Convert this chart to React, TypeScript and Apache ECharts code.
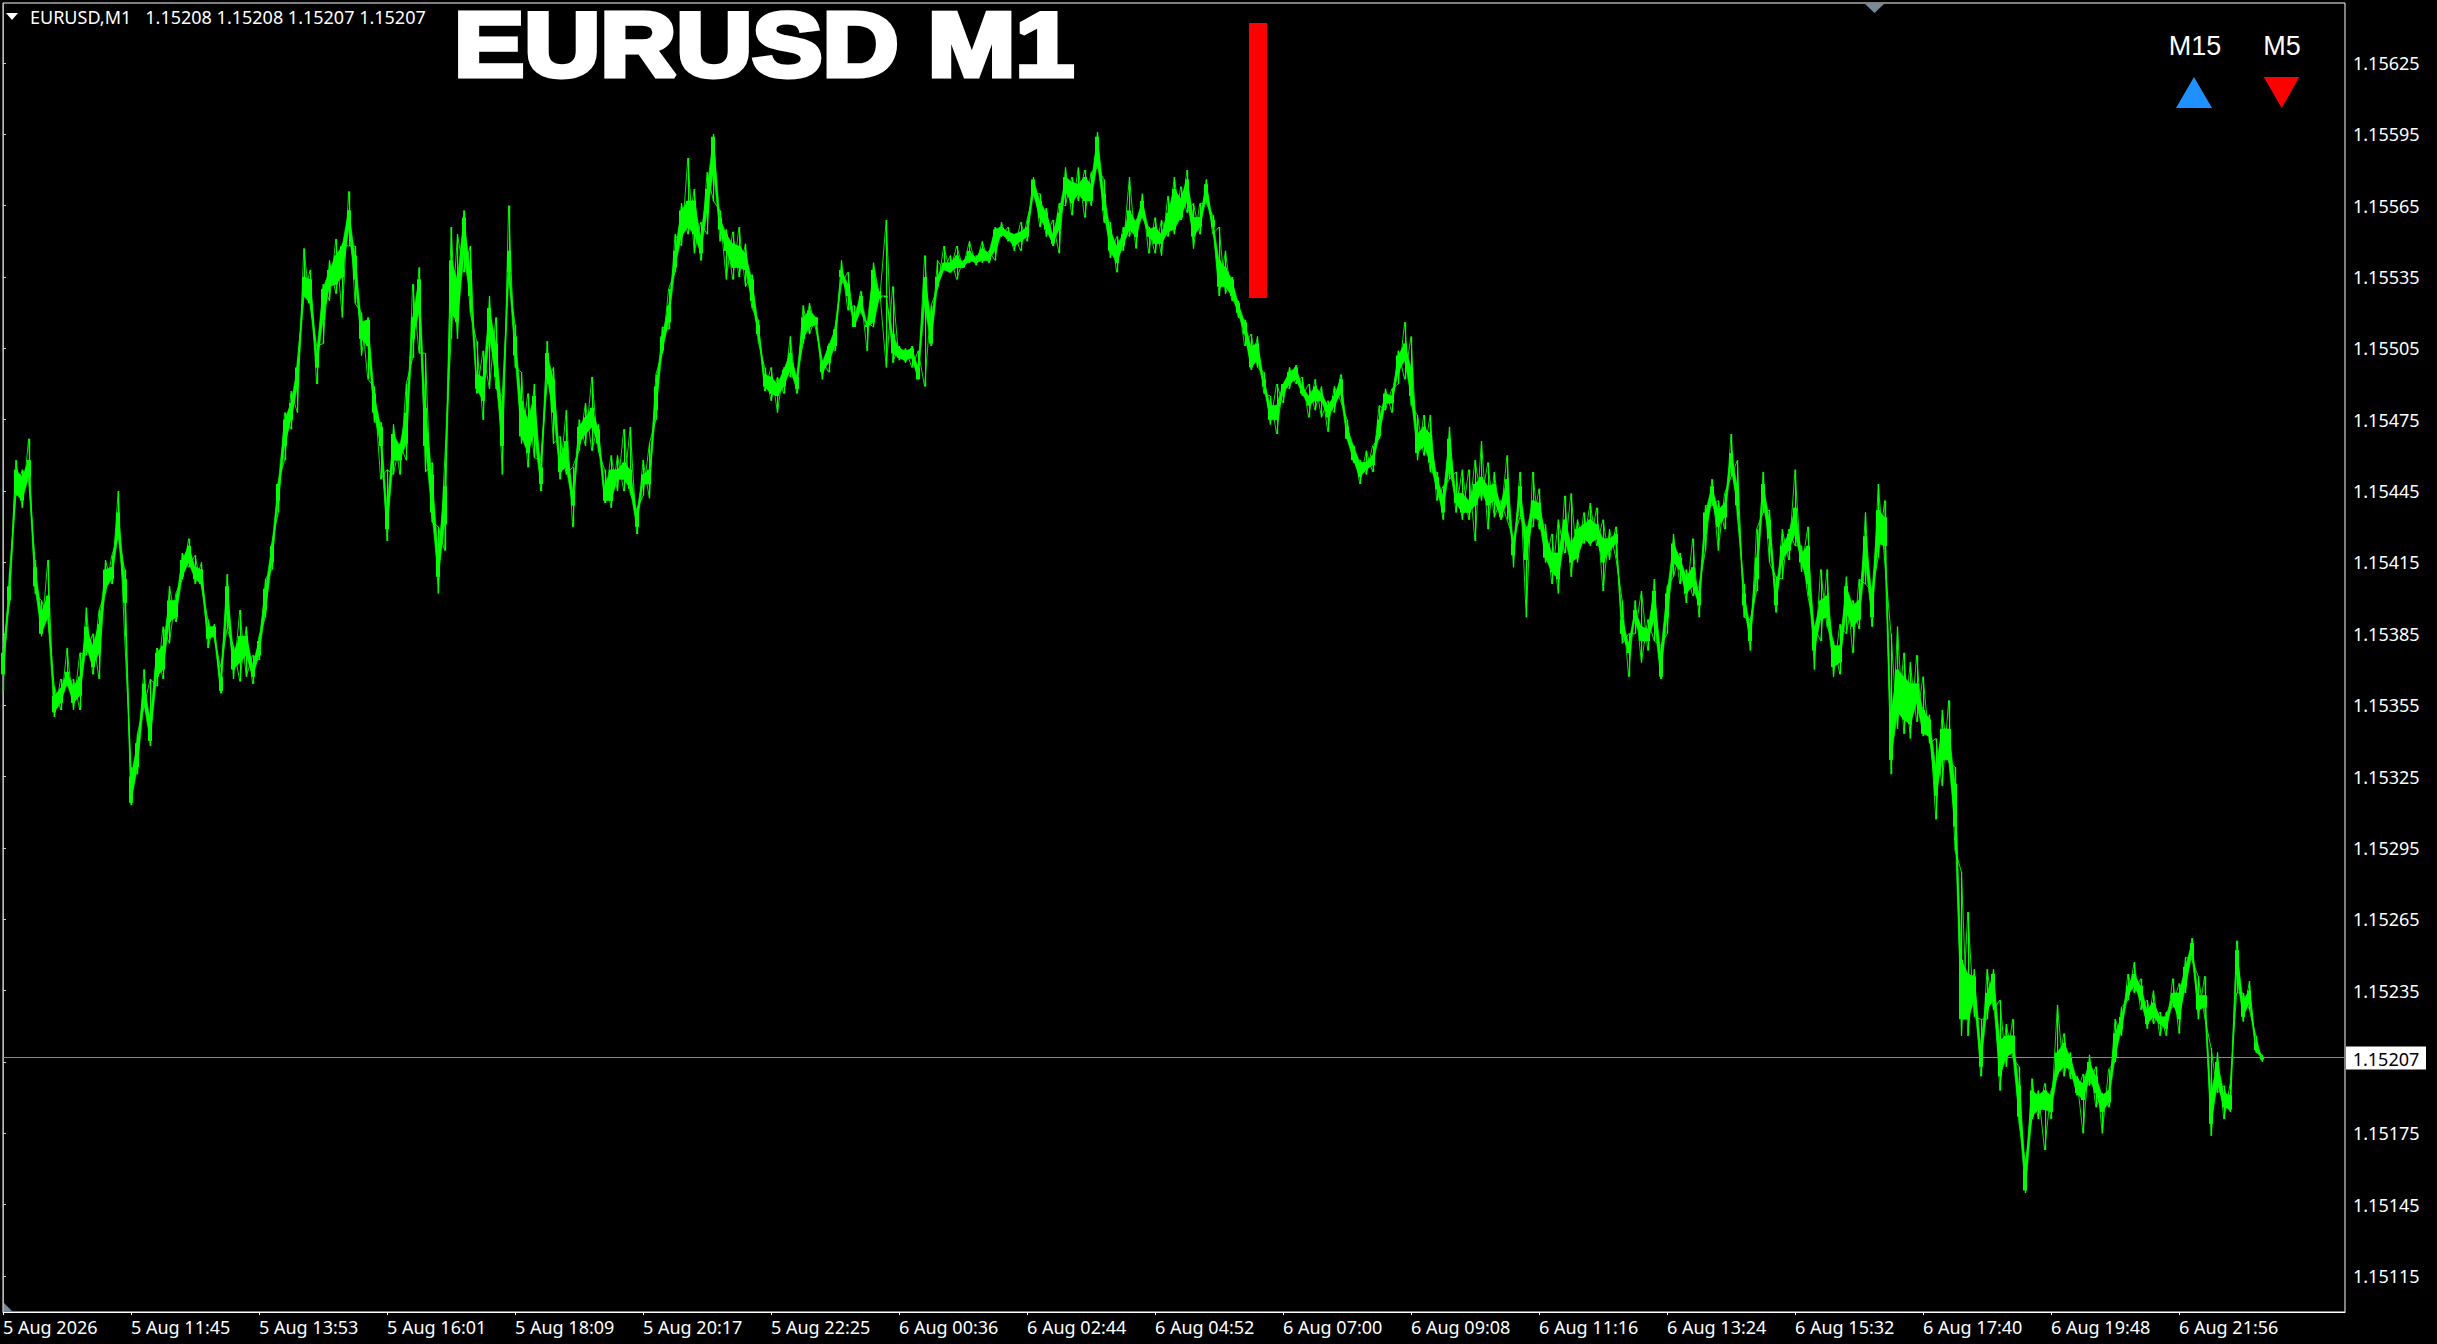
import React, { useEffect, useRef } from "react";
import * as echarts from "echarts";

const WIDTH = 2437;
const HEIGHT = 1344;

const timeLabels = [
  "5 Aug 2026", "5 Aug 11:45", "5 Aug 13:53", "5 Aug 16:01", "5 Aug 18:09", "5 Aug 20:17",
  "5 Aug 22:25", "6 Aug 00:36", "6 Aug 02:44", "6 Aug 04:52", "6 Aug 07:00", "6 Aug 09:08",
  "6 Aug 11:16", "6 Aug 13:24", "6 Aug 15:32", "6 Aug 17:40", "6 Aug 19:48", "6 Aug 21:56",
];
const minutesPerLabel = 128;
const axisEndMinute = 2342;
const priceLabels = [
  1.15625, 1.15595, 1.15565, 1.15535, 1.15505, 1.15475, 1.15445, 1.15415, 1.15385,
  1.15355, 1.15325, 1.15295, 1.15265, 1.15235, 1.15175, 1.15145, 1.15115,
];
const priceTicks = [...priceLabels, 1.15205];
const lastPrice = 1.15207;

const signalBar = { fromMinute: 1246, toMinute: 1264, top: 1.156418, bottom: 1.155262 };

// Points above 1.15000, one bar for every 6.4 minutes of the axis, 20 bars per label.
const basePrice = 1.15;
const barMinutes = 6.4;
const highs = [
  379,411,458,454,467,416,399,416,363,366,379,366,377,396,385,395,416,418,445,412,
  329,343,370,366,379,388,405,402,419,425,418,415,391,389,371,410,380,395,388,376,
  384,408,423,449,478,487,500,547,538,506,532,542,551,549,571,548,520,518,489,474,
  454,473,465,490,532,539,503,457,430,457,556,553,563,548,508,504,527,518,485,565,
  515,495,486,490,458,508,497,468,479,455,475,482,493,473,454,460,460,471,472,437,
  458,465,494,514,530,553,566,585,572,558,579,595,563,555,554,556,549,536,517,497,
  497,493,497,510,493,523,524,518,500,507,514,542,537,523,529,516,541,529,559,531,
  506,505,506,504,544,523,542,548,544,548,542,550,544,550,546,556,558,556,553,558,
  559,577,570,564,559,566,581,577,581,580,579,596,576,558,552,556,577,559,570,556,
  560,559,569,577,573,580,566,566,576,561,556,546,535,525,517,511,510,495,485,490,
  490,497,498,493,490,492,489,483,489,494,475,464,458,462,464,481,488,488,504,516,
  510,477,477,477,453,447,472,453,454,454,458,466,457,453,441,460,425,453,430,453,
  446,431,427,433,443,444,433,436,440,438,433,429,430,399,385,399,403,391,408,380,
  405,427,419,412,425,405,439,450,441,444,469,458,406,391,429,453,437,409,429,429,
  454,422,430,388,412,412,382,389,409,399,408,436,403,448,441,385,388,377,373,376,
  367,351,341,353,357,329,285,268,244,223,244,244,231,221,223,203,163,198,193,196,
  193,229,217,209,199,200,208,203,192,202,223,228,242,247,240,231,235,226,226,240,
  238,249,257,241,241,211,209,195,196,256,234,239,216,208,
];
const lows = [
  361,398,443,438,450,402,384,392,350,353,363,353,353,376,368,366,402,406,426,384,
  313,326,354,338,363,366,381,390,408,413,406,405,379,383,360,387,366,365,367,364,
  374,392,412,436,458,471,478,527,523,490,507,525,528,518,548,524,502,492,474,450,
  424,452,452,458,501,503,453,432,402,420,509,509,537,520,486,475,488,488,452,535,
  497,465,455,459,445,490,465,450,452,430,462,464,462,462,440,438,445,445,444,427,
  443,442,475,503,513,537,548,553,545,542,553,567,550,534,534,535,531,522,508,487,
  483,478,486,493,486,507,511,513,492,495,504,532,521,514,520,504,514,526,497,499,
  500,499,497,492,489,506,530,538,537,534,539,541,540,541,541,542,552,550,546,546,
  550,570,556,552,548,545,565,561,567,560,565,581,558,543,537,546,552,547,560,545,
  545,544,552,553,559,562,547,553,566,553,527,528,525,518,506,496,497,486,473,469,
  482,488,490,485,476,479,476,470,478,483,467,457,448,452,453,467,479,478,490,492,
  481,458,460,453,441,433,450,436,433,433,424,441,429,434,433,433,413,434,392,430,
  429,415,406,402,419,409,415,423,422,422,403,416,417,381,367,385,373,378,382,366,
  385,409,406,398,401,392,420,439,420,429,451,434,392,378,403,436,415,394,408,416,
  422,411,401,370,382,388,367,368,385,377,387,406,388,417,416,326,345,343,341,348,
  342,339,307,321,331,294,216,216,224,199,223,227,193,203,207,179,150,181,181,168,
  181,199,199,198,191,175,195,186,175,186,205,216,231,234,227,219,221,216,216,228,
  217,234,248,223,224,174,192,181,184,234,222,227,209,205,
];
const bodyHighs = [
  377,405,454,451,458,413,394,401,359,362,369,363,367,388,380,389,412,413,436,408,
  325,339,364,349,377,380,399,399,416,422,413,412,388,388,367,405,377,384,384,372,
  382,404,422,448,475,482,497,535,534,503,530,538,544,548,563,544,516,517,486,472,
  438,469,464,478,518,534,480,452,419,447,542,534,560,538,494,493,522,507,478,546,
  510,483,475,485,455,503,492,459,466,445,472,476,480,471,447,454,454,457,454,436,
  452,454,489,510,523,546,563,567,567,552,572,594,560,553,549,548,545,534,515,494,
  493,490,496,503,493,518,521,518,499,506,513,538,532,518,527,515,538,527,527,511,
  505,504,505,497,535,517,535,541,541,544,541,546,543,547,545,555,556,554,553,554,
  556,576,567,562,553,562,577,575,574,577,574,594,570,555,548,553,563,558,567,555,
  556,553,562,572,568,576,560,560,574,559,542,539,534,524,516,506,507,492,481,481,
  490,495,497,489,485,489,486,481,485,492,472,464,457,457,460,475,486,485,502,507,
  497,469,472,469,451,443,467,444,444,441,448,451,447,448,439,450,423,447,427,441,
  440,427,419,419,433,423,429,431,433,431,425,425,427,391,381,395,388,387,403,377,
  402,423,417,409,413,402,436,447,437,440,461,447,402,388,417,448,433,404,422,427,
  438,419,422,387,399,401,380,380,405,397,399,426,402,437,434,352,370,367,364,364,
  353,349,329,345,345,322,248,242,241,212,234,242,214,216,216,195,160,193,191,193,
  191,209,213,207,198,196,205,199,191,193,217,224,237,242,237,227,230,224,224,234,
  234,245,255,233,233,192,205,192,191,252,231,235,213,207,
];
const bodyLows = [
  368,399,444,441,451,405,385,392,352,356,364,356,359,380,371,377,404,408,427,398,
  314,329,356,340,367,370,390,392,409,415,408,406,383,384,361,394,370,373,376,367,
  376,395,415,441,464,475,489,527,524,497,517,531,532,535,555,534,509,506,478,464,
  429,458,458,465,509,520,464,436,409,431,520,516,544,527,488,483,510,493,464,537,
  502,468,461,469,448,493,478,453,455,439,465,469,472,465,441,441,450,450,446,430,
  448,448,479,504,516,539,552,556,553,545,562,579,555,546,539,539,538,525,511,489,
  486,485,489,496,488,509,514,515,495,499,506,535,527,514,521,514,516,527,527,503,
  501,500,501,492,523,507,531,538,537,539,539,542,541,542,542,546,553,551,548,550,
  552,570,560,555,549,555,571,566,570,567,567,583,563,546,541,548,555,552,561,552,
  549,549,554,555,560,567,552,556,568,556,531,531,527,520,511,497,500,489,475,475,
  486,490,492,486,481,483,483,476,481,486,467,458,451,454,456,468,482,482,495,500,
  485,461,464,457,446,436,455,440,436,436,439,445,439,441,434,440,418,440,416,434,
  433,417,411,408,425,415,417,425,423,425,415,420,423,385,377,391,382,382,391,367,
  392,415,412,402,405,397,427,441,430,434,455,439,397,382,408,440,425,397,416,420,
  427,415,406,378,391,392,371,373,394,388,391,415,392,423,422,332,352,349,347,356,
  343,342,317,332,332,304,223,223,231,203,227,231,199,207,209,182,151,182,185,185,
  184,200,203,202,192,189,198,192,184,188,207,219,233,237,231,221,224,221,219,230,
  223,237,250,227,228,179,196,186,185,242,224,230,210,206,
];

const toPrice = (points: number) => basePrice + points / 100000;
const barData = highs.map((h, i) => [
  i * barMinutes, toPrice(h), toPrice(lows[i]), toPrice(bodyHighs[i]), toPrice(bodyLows[i]),
]);

const LABEL_FONT = "Noto Sans";
const GREEN = "#00ff00";

export default function App() {
  const ref = useRef<HTMLDivElement | null>(null);
  useEffect(() => {
    if (!ref.current) return;
    const chart = echarts.init(ref.current, undefined, { renderer: "svg", width: WIDTH, height: HEIGHT });
    chart.setOption({
      animation: false,
      backgroundColor: "#000",
      grid: {
        left: 3, right: 92, top: 3, bottom: 32, show: true,
        borderColor: "#fff", borderWidth: 1, backgroundColor: "transparent",
      },
      xAxis: {
        type: "value", min: 0, max: axisEndMinute, splitLine: { show: false },
        axisLine: { show: true, lineStyle: { color: "#fff", width: 1 } },
        axisTick: {
          show: true, length: 3, lineStyle: { color: "#fff" },
          customValues: timeLabels.map((_, i) => i * minutesPerLabel),
        },
        axisLabel: {
          color: "#fff", fontFamily: LABEL_FONT, fontSize: 18, align: "left", margin: 6,
          customValues: timeLabels.map((_, i) => i * minutesPerLabel),
          formatter: (v: number) => timeLabels[Math.round(v / minutesPerLabel)] ?? "",
        },
      },
      yAxis: {
        type: "value", position: "right", min: 1.150999, max: 1.156502, scale: true,
        splitLine: { show: false },
        axisLine: { show: true, lineStyle: { color: "#b4b4b4", width: 1 } },
        axisTick: { show: true, length: 3, lineStyle: { color: "#d0d0d0" }, customValues: priceTicks },
        axisLabel: {
          color: "#fff", fontFamily: LABEL_FONT, fontSize: 18, margin: 8,
          customValues: priceLabels,
          formatter: (v: number) => v.toFixed(5),
        },
      },
      series: [
        {
          type: "custom",
          name: "EURUSD,M1",
          silent: true,
          data: barData,
          encode: { x: 0, y: [1, 2, 3, 4] },
          renderItem: (p: any, api: any) => {
            const i = p.dataIndexInside;
            const m = api.value(0, i);
            const [cx, hy] = api.coord([m, api.value(1, i)]);
            const [, ly] = api.coord([m, api.value(2, i)]);
            const [, ty] = api.coord([m, api.value(3, i)]);
            const [, by] = api.coord([m, api.value(4, i)]);
            const x = Math.round(cx);
            const children: any[] = [
              { type: "rect", shape: { x, y: hy, width: 1.2, height: Math.max(1, ly - hy) }, style: { fill: GREEN } },
              { type: "rect", shape: { x: x - 2, y: ty, width: 4, height: Math.max(1.5, by - ty) }, style: { fill: GREEN } },
            ];
            if (i + 1 < p.dataInsideLength) {
              const nm = api.value(0, i + 1);
              const [nx, nhy] = api.coord([nm, api.value(1, i + 1)]);
              const [, nly] = api.coord([nm, api.value(2, i + 1)]);
              const [, nty] = api.coord([nm, api.value(3, i + 1)]);
              const [, nby] = api.coord([nm, api.value(4, i + 1)]);
              children.push(
                {
                  type: "polygon",
                  shape: { points: [[cx, ty], [nx, nty], [nx, nby], [cx, by]] },
                  style: { fill: GREEN, stroke: GREEN, lineWidth: 0.6 },
                },
                { type: "line", shape: { x1: cx, y1: hy, x2: nx, y2: nly }, style: { stroke: GREEN, lineWidth: 0.9 } },
                { type: "line", shape: { x1: cx, y1: ly, x2: nx, y2: nhy }, style: { stroke: GREEN, lineWidth: 0.9 } },
              );
            }
            return { type: "group", children };
          },
        },
        {
          type: "custom",
          name: "Signal",
          silent: true,
          data: [[signalBar.fromMinute, signalBar.top, signalBar.toMinute, signalBar.bottom]],
          encode: { x: [0, 2], y: [1, 3] },
          renderItem: (_p: any, api: any) => {
            const [x0, y0] = api.coord([api.value(0), api.value(1)]);
            const [x1, y1] = api.coord([api.value(2), api.value(3)]);
            return { type: "rect", shape: { x: x0, y: y0, width: x1 - x0, height: y1 - y0 }, style: { fill: "#ff0000" } };
          },
        },
        {
          type: "custom",
          name: "Last price",
          silent: true,
          clip: false,
          data: [[0, lastPrice, axisEndMinute]],
          encode: { x: [0, 2], y: 1 },
          renderItem: (_p: any, api: any) => {
            const [x0, y] = api.coord([api.value(0), api.value(1)]);
            const [x1] = api.coord([api.value(2), api.value(1)]);
            const ly = Math.round(y) + 0.5;
            return {
              type: "group",
              children: [
                { type: "line", shape: { x1: x0, y1: ly, x2: x1, y2: ly }, style: { stroke: "#7f8c99", lineWidth: 1 } },
                { type: "rect", shape: { x: x1 + 1, y: ly - 11, width: 80, height: 23 }, style: { fill: "#fff" } },
                {
                  type: "text", x: x1 + 41, y: ly + 1,
                  style: {
                    text: lastPrice.toFixed(5), fill: "#000", font: `18px "${LABEL_FONT}"`,
                    align: "center", verticalAlign: "middle",
                  },
                },
              ],
            };
          },
        },
      ],
      graphic: [
        { type: "polygon", shape: { points: [[6, 13], [18, 13], [12, 20]] }, style: { fill: "#fff" } },
        {
          type: "text", x: 30, y: 17,
          style: {
            text: "EURUSD,M1\u00a0\u00a0\u00a01.15208 1.15208 1.15207 1.15207",
            fill: "#fff", font: `18px "${LABEL_FONT}"`, verticalAlign: "middle",
          },
        },
        {
          type: "text", x: 454, y: 45, scaleX: 1.17,
          style: {
            text: "EURUSD M1", fill: "#fff", stroke: "#fff", lineWidth: 5,
            font: 'bold 90px "Liberation Sans"', verticalAlign: "middle",
          },
        },
        { type: "polygon", shape: { points: [[1864, 3], [1885, 3], [1874.5, 13]] }, style: { fill: "#778899" } },
        { type: "polygon", shape: { points: [[3, 1302], [13, 1312], [3, 1312]] }, style: { fill: "#778899" } },
        {
          type: "text", x: 2195, y: 46,
          style: { text: "M15", fill: "#fff", font: '27px "Liberation Sans"', align: "center", verticalAlign: "middle" },
        },
        {
          type: "text", x: 2282, y: 46,
          style: { text: "M5", fill: "#fff", font: '27px "Liberation Sans"', align: "center", verticalAlign: "middle" },
        },
        { type: "polygon", shape: { points: [[2176, 108], [2212, 108], [2194, 77]] }, style: { fill: "#1e90ff" } },
        { type: "polygon", shape: { points: [[2263.7, 77], [2299.3, 77], [2281.7, 108]] }, style: { fill: "#ff0000" } },
      ],
    });
    return () => chart.dispose();
  }, []);
  return (
    <div
      ref={ref}
      style={{ position: "fixed", left: 0, top: 0, width: WIDTH, height: HEIGHT, background: "#000" }}
    />
  );
}
